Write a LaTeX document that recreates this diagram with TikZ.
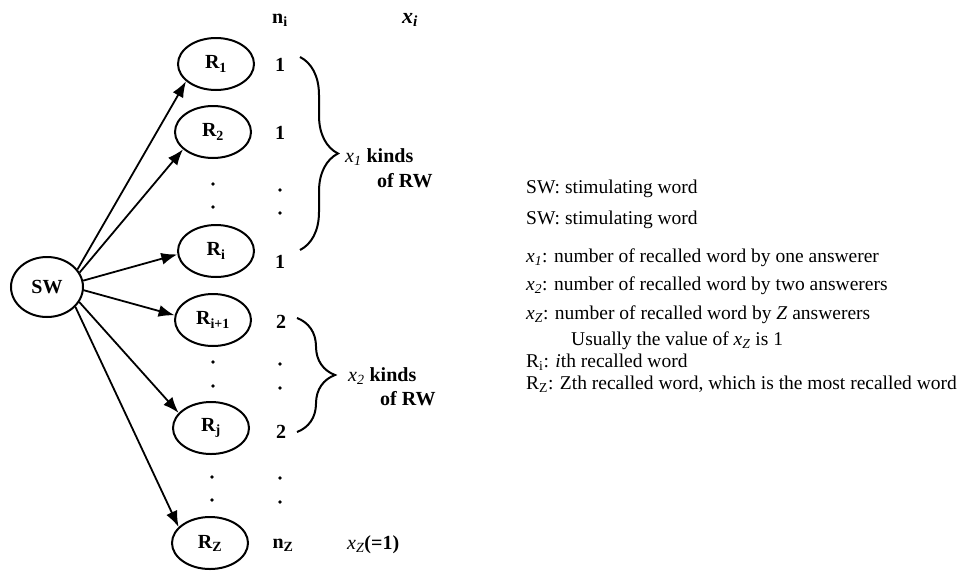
\documentclass[tikz,border=0pt]{standalone}
\usepackage{fontspec}
\setmainfont{Liberation Serif}
\usetikzlibrary{shapes.geometric,arrows.meta,decorations.pathreplacing}
\begin{document}
\begin{tikzpicture}[x=1pt,y=-1pt,
  every node/.style={font=\fontsize{20}{22}\selectfont},
  rw/.style={ellipse,draw,line width=2pt,minimum width=76pt,minimum height=52pt,inner sep=0pt,font=\fontsize{20}{22}\selectfont\bfseries},
  conn/.style={line width=1.8pt,-{Latex[length=16pt,width=12pt]}},
  brc/.style={decorate,decoration={brace,amplitude=38pt,aspect=0.5},line width=2pt},
  num/.style={font=\fontsize{20}{22}\selectfont\bfseries},
  dot/.style={circle,fill,inner sep=0pt,minimum size=3.6pt},
  leg/.style={anchor=base west,inner sep=0pt,font=\fontsize{19.5}{22}\selectfont},
  lab/.style={anchor=west,inner sep=0pt,font=\fontsize{20}{22}\selectfont}]
\useasboundingbox (0,0) rectangle (966,571);

% nodes
\node[rw,minimum width=72pt,minimum height=60pt] (SW) at (47,287) {SW};
\node[rw] (R1) at (216,64) {R\textsubscript{1}};
\node[rw] (R2) at (213,132) {R\textsubscript{2}};
\node[rw] (Ri) at (216,251) {R\textsubscript{i}};
\node[rw] (Ri1) at (213,320) {R\textsubscript{i+1}};
\node[rw] (Rj) at (211,428) {R\textsubscript{j}};
\node[rw] (RZ) at (210,543) {R\textsubscript{Z}};

% left dots
\node[dot] (ld1) at (213,184) {};
\node[dot] (ld2) at (213,207) {};
\node[dot] (ld3) at (213,362) {};
\node[dot] (ld4) at (213,386) {};
\node[dot] (ld5) at (212,477) {};
\node[dot] (ld6) at (212,500) {};

% n_i column
\node[num] (ni) at (280,20) {n\textsubscript{i}};
\node[font=\fontsize{22}{24}\selectfont\bfseries\itshape] (xi) at (410,20) {x\textsubscript{i}};
\node[num] (c1) at (280,65) {1};
\node[num] (c2) at (280,133) {1};
\node[dot] (rd1) at (280,190) {};
\node[dot] (rd2) at (280,213) {};
\node[num] (c3) at (280,262) {1};
\node[num] (c4) at (281,322) {2};
\node[dot] (rd3) at (280,364) {};
\node[dot] (rd4) at (280,388) {};
\node[num] (c5) at (281,432) {2};
\node[dot] (rd5) at (280,478) {};
\node[dot] (rd6) at (280,502) {};
\node[num] (nZ) at (283,545) {n\textsubscript{Z}};
\node[lab] (xZ) at (347,545) {\textit{x}\textsubscript{\textit{Z}}\textbf{(=1)}};

% braces
\coordinate (b1t) at (300,57);
\coordinate (b1b) at (300,250);
\coordinate (b2t) at (297,318);
\coordinate (b2b) at (297,432);
\draw[brc] (b1t) -- (b1b);
\draw[brc] (b2t) -- (b2b);
\node[lab] (k1) at (345,157) {\textit{x}\textsubscript{\textit{1}} \textbf{kinds}};
\node[lab] (o1) at (377,181) {\textbf{of RW}};
\node[lab] (k2) at (348,376) {\textit{x}\textsubscript{\textit{2}} \textbf{kinds}};
\node[lab] (o2) at (380,399) {\textbf{of RW}};

% arrows
\draw[conn] (SW.30) -- (R1.210);
\draw[conn] (SW.24) -- (R2.210);
\draw[conn] (SW.10) -- (Ri.185);
\draw[conn] (SW.-5) -- (Ri1.173);
\draw[conn] (SW.-25) -- (Rj.155);
\draw[conn] (SW.-35) -- (RZ.153);

% legend
\node[leg] (L1) at (526,193) {SW: stimulating word};
\node[leg] (L2) at (526,224) {SW: stimulating word};
\node[leg] (L3) at (526,262) {\textit{x}\textsubscript{\textit{1}}: number of recalled word by one answerer};
\node[leg] (L4) at (526,290) {\textit{x}\textsubscript{\textit{2}}: number of recalled word by two answerers};
\node[leg] (L5) at (526,319) {\textit{x}\textsubscript{\textit{Z}}: number of recalled word by \textit{Z} answerers};
\node[leg] (L6) at (571,345) {Usually the value of \textit{x}\textsubscript{\textit{Z}} is 1};
\node[leg] (L7) at (526,367) {R\textsubscript{i}: \textit{i}th recalled word};
\node[leg] (L8) at (526,389) {R\textsubscript{Z}: Zth recalled word, which is the most recalled word};
\end{tikzpicture}
\end{document}
